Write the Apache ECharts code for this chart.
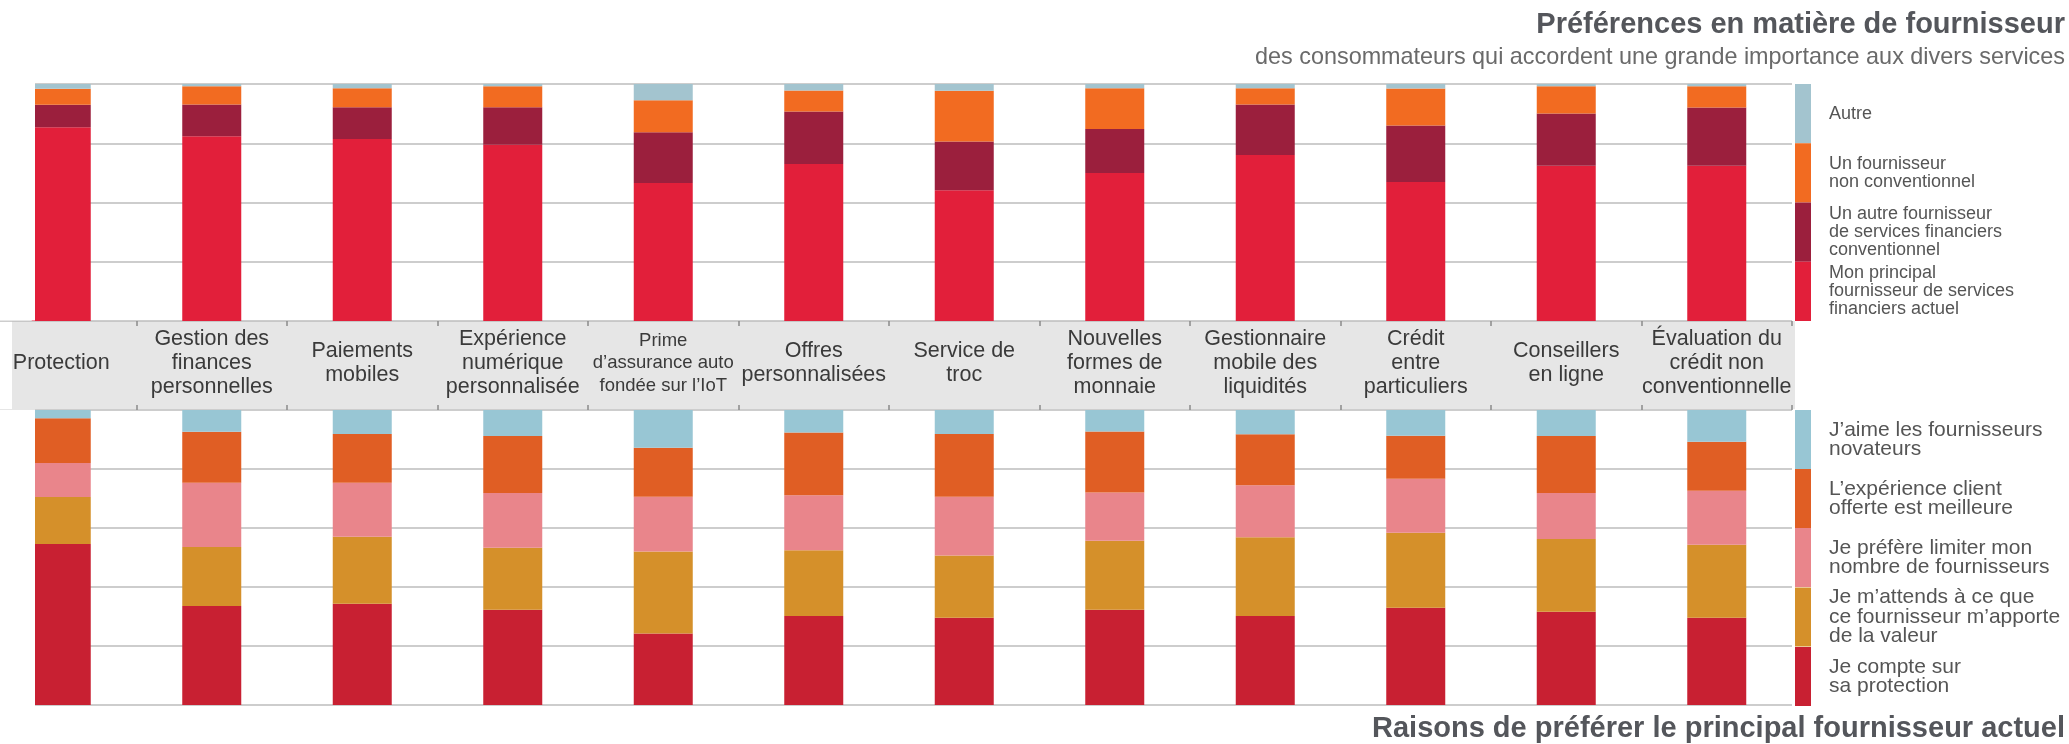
<!DOCTYPE html>
<html>
<head>
<meta charset="utf-8">
<script src="https://cdn.jsdelivr.net/npm/echarts@6/dist/echarts.min.js"></script>
<style>
html,body{margin:0;padding:0;background:#fff;overflow:hidden;width:2069px;height:744px;position:relative;}
/* the chart canvas starts 15px left of the page so the first category band can be cut off like in the reference */
#chart{position:absolute;left:-15px;top:0;width:2084px;height:744px;}
</style>
</head>
<body>
<div id="chart"></div>
<script>
// ---------- data ----------
const categories = [
  'Protection',
  'Gestion des\nfinances\npersonnelles',
  'Paiements\nmobiles',
  'Expérience\nnumérique\npersonnalisée',
  'Prime\nd’assurance auto\nfondée sur l’IoT',
  'Offres\npersonnalisées',
  'Service de\ntroc',
  'Nouvelles\nformes de\nmonnaie',
  'Gestionnaire\nmobile des\nliquidités',
  'Crédit\nentre\nparticuliers',
  'Conseillers\nen ligne',
  'Évaluation du\ncrédit non\nconventionnelle'
];

// Top chart: preferred provider (%)
const topNames = [
  'Mon principal\nfournisseur de services\nfinanciers actuel',
  'Un autre fournisseur\nde services financiers\nconventionnel',
  'Un fournisseur\nnon conventionnel',
  'Autre'
];
const mainCurrentProvider = [81.7, 78.0, 76.8, 74.4, 58.2, 66.2, 55.2, 62.4, 70.0, 58.7, 65.5, 65.5];
const otherTraditional    = [9.5, 13.4, 13.4, 15.8, 21.4, 22.2, 20.5, 18.6, 21.4, 23.8, 22.1, 24.6];
const nonTraditional      = [6.8, 7.6, 8.0, 8.9, 13.5, 8.9, 21.5, 17.2, 6.8, 15.6, 11.4, 8.9];
const otherProvider       = [2.0, 1.0, 1.8, 0.9, 6.9, 2.7, 2.8, 1.8, 1.8, 1.9, 1.0, 1.0];

// Bottom chart: reasons (%)
const bottomNames = [
  'Je compte sur\nsa protection',
  'Je m’attends à ce que\nce fournisseur m’apporte\nde la valeur',
  'Je préfère limiter mon\nnombre de fournisseurs',
  'L’expérience client\nofferte est meilleure',
  'J’aime les fournisseurs\nnovateurs'
];
const reliesProtection = [54.6, 33.6, 34.3, 32.3, 24.2, 30.2, 29.6, 32.3, 30.2, 33.0, 31.6, 29.6];
const expectsValue     = [15.9, 20.0, 22.7, 21.0, 27.8, 22.3, 21.1, 23.4, 26.7, 25.4, 24.7, 24.7];
const limitProviders   = [11.5, 21.7, 18.3, 18.6, 18.6, 18.6, 19.9, 16.3, 17.6, 18.3, 15.6, 18.3];
const betterExperience = [15.2, 17.3, 16.6, 19.3, 16.6, 21.3, 21.3, 20.7, 17.3, 14.6, 19.3, 16.6];
const likesInnovators  = [2.8, 7.4, 8.1, 8.8, 12.8, 7.6, 8.1, 7.3, 8.2, 8.7, 8.8, 10.8];

const topColors = ['#e21f3a', '#9b1f3d', '#f26b21', '#a3c4cf'];
const bottomColors = ['#c82032', '#d5902a', '#e9858b', '#e05e24', '#98c6d4'];

// ---------- chart ----------
const FONT = '"Liberation Sans", Arial, Helvetica, sans-serif';
const SHIFT = 15; // chart x = page x + SHIFT
const chart = echarts.init(document.getElementById('chart'), null, {renderer: 'canvas'});

const topData = [mainCurrentProvider, otherTraditional, nonTraditional, otherProvider];
const bottomData = [reliesProtection, expectsValue, limitProviders, betterExperience, likesInnovators];

const series = [];
topData.forEach((d, i) => series.push({
  name: topNames[i], type: 'bar', stack: 'top', xAxisIndex: 0, yAxisIndex: 0,
  barWidth: 59, data: d, itemStyle: {color: topColors[i]}, emphasis: {disabled: true}
}));
bottomData.forEach((d, i) => series.push({
  name: bottomNames[i], type: 'bar', stack: 'bottom', xAxisIndex: 1, yAxisIndex: 1,
  barWidth: 59, data: d, itemStyle: {color: bottomColors[i]}, emphasis: {disabled: true}
}));

const tickStyle = {show: true, length: 5, lineStyle: {color: '#8a8a8a', width: 1.5}};
const gridLine = {show: true, lineStyle: {color: '#bcbcbc', width: 1.5}};

const option = {
  animation: false,
  backgroundColor: '#ffffff',
  textStyle: {fontFamily: FONT},
  title: [
    {text: 'Préférences en matière de fournisseur', right: 4, top: 10, padding: 0,
     textStyle: {fontFamily: FONT, fontSize: 29, fontWeight: 'bold', color: '#54565b'}},
    {text: 'des consommateurs qui accordent une grande importance aux divers services', right: 4, top: 46, padding: 0,
     textStyle: {fontFamily: FONT, fontSize: 23.4, fontWeight: 'normal', color: '#6a6a6a'}},
    {text: 'Raisons de préférer le principal fournisseur actuel', right: 4, top: 714, padding: 0,
     textStyle: {fontFamily: FONT, fontSize: 29, fontWeight: 'bold', color: '#54565b'}}
  ],
  legend: [
    {orient: 'vertical', left: 1795 + SHIFT, top: 84, padding: 0, itemGap: 0, itemWidth: 16, itemHeight: 59.25,
     icon: 'rect', selectedMode: false, data: topNames.slice().reverse(),
     textStyle: {fontFamily: FONT, fontSize: 18, lineHeight: 18, color: '#555', padding: [0, 0, 0, 13]}},
    {orient: 'vertical', left: 1795 + SHIFT, top: 410, padding: 0, itemGap: 0, itemWidth: 16, itemHeight: 59,
     icon: 'rect', selectedMode: false, data: bottomNames.slice().reverse(),
     textStyle: {fontFamily: FONT, fontSize: 21, lineHeight: 19.5, color: '#555', padding: [0, 0, 0, 13]}}
  ],
  grid: [
    {left: SHIFT - 14, top: 84, width: 1806, height: 237, containLabel: false},
    {left: SHIFT - 14, top: 410, width: 1806, height: 295, containLabel: false}
  ],
  xAxis: [
    {type: 'category', gridIndex: 0, data: categories, position: 'bottom',
     axisLine: {show: false, onZero: false}, axisTick: tickStyle, splitLine: {show: false},
     axisLabel: {interval: 0, margin: 42, verticalAlign: 'middle', fontFamily: FONT,
       fontSize: 21.5, lineHeight: 24, color: '#3a3a3a',
       formatter: (v, i) => i === 4 ? v.split('\n').map(l => '{s|' + l + '}').join('\n') : v,
       rich: {s: {fontFamily: FONT, fontSize: 18.5, lineHeight: 22.5, color: '#3a3a3a'}}}},
    {type: 'category', gridIndex: 1, data: categories, position: 'top',
     axisLine: {show: false, onZero: false}, axisTick: tickStyle, axisLabel: {show: false}, splitLine: {show: false}}
  ],
  yAxis: [
    {type: 'value', gridIndex: 0, min: 0, max: 100, interval: 25,
     axisLine: {show: false}, axisTick: {show: false}, axisLabel: {show: false}, splitLine: gridLine},
    {type: 'value', gridIndex: 1, min: 0, max: 100, interval: 20,
     axisLine: {show: false}, axisTick: {show: false}, axisLabel: {show: false}, splitLine: gridLine}
  ],
  graphic: {elements: [
    {type: 'rect', z: -10, shape: {x: 12 + SHIFT, y: 321, width: 1783, height: 88}, style: {fill: '#e6e6e6'}},
    {type: 'rect', z: 100, shape: {x: 0, y: 78, width: 35 + SHIFT, height: 242.5}, style: {fill: '#ffffff'}},
    {type: 'rect', z: 100, shape: {x: 0, y: 409.5, width: 35 + SHIFT, height: 300}, style: {fill: '#ffffff'}}
  ]},
  series: series
};
chart.setOption(option);
</script>
</body>
</html>
